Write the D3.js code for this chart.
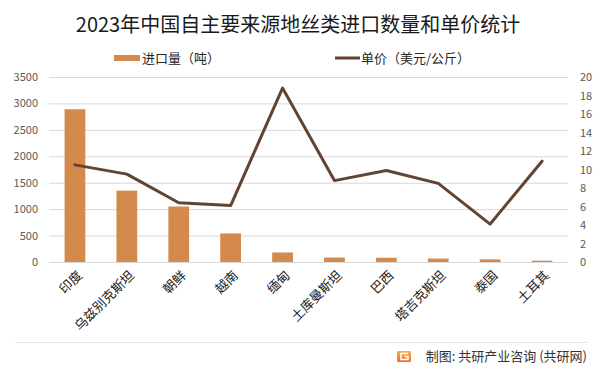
<!DOCTYPE html>
<html><head><meta charset="utf-8">
<script src="https://cdn.jsdelivr.net/npm/d3@7"></script>
<style>
html,body{margin:0;padding:0;background:#fff;}
svg{display:block;font-family:"Noto Sans CJK SC","Noto Sans",sans-serif;}
</style></head>
<body>
<svg id="chart" width="602" height="374"></svg>
<script>
const title = "2023年中国自主要来源地丝类进口数量和单价统计";
const categories = ["印度","乌兹别克斯坦","朝鲜","越南","缅甸","土库曼斯坦","巴西","塔吉克斯坦","泰国","土耳其"];
const volume = [2890, 1350, 1050, 540, 180, 85, 80, 65, 50, 25];
const price = [10.5, 9.5, 6.4, 6.1, 18.8, 8.8, 9.9, 8.5, 4.1, 10.9];
const leftTicks = [0, 500, 1000, 1500, 2000, 2500, 3000, 3500];
const rightTicks = [0, 2, 4, 6, 8, 10, 12, 14, 16, 18, 20];
const seriesNames = ["进口量（吨）", "单价（美元/公斤）"];
const footer = "制图: 共研产业咨询 (共研网)";

const barColor = "#D48A4D", lineColor = "#614532", gridColor = "#D9D9D9", tickColor = "#595959";
const svg = d3.select("#chart");
const L = 49, R = 568, T = 77, B = 262;

const x = d3.scaleBand().domain(categories).range([L, R]).paddingInner(0.6).paddingOuter(0.3);
const yL = d3.scaleLinear().domain([0, 3500]).range([B, T]);
const yR = d3.scaleLinear().domain([0, 20]).range([B, T]);

// title
svg.append("text").attr("x", 298).attr("y", 32).attr("text-anchor", "middle")
  .attr("font-size", 20).attr("fill", "#1a1a1a").text(title);

// gridlines
svg.append("g").selectAll("line").data(leftTicks).join("line")
  .attr("x1", L).attr("x2", R).attr("y1", d => yL(d) + 0.5).attr("y2", d => yL(d) + 0.5)
  .attr("stroke", gridColor).attr("stroke-width", 1);

// left axis
const gl = svg.append("g").attr("transform", `translate(${L - 11},0)`)
  .call(d3.axisLeft(yL).tickValues(leftTicks).tickFormat(d3.format("d")).tickSize(0).tickPadding(0));
gl.select(".domain").remove();
gl.selectAll("text").attr("font-size", 11).attr("fill", tickColor)
  .attr("font-family", "'Noto Sans CJK SC',sans-serif");

// right axis
const gr = svg.append("g").attr("transform", `translate(580,0)`)
  .call(d3.axisRight(yR).tickValues(rightTicks).tickFormat(d3.format("d")).tickSize(0).tickPadding(0));
gr.select(".domain").remove();
gr.selectAll("text").attr("font-size", 11).attr("fill", tickColor)
  .attr("font-family", "'Noto Sans CJK SC',sans-serif");

// bars
svg.append("g").selectAll("rect").data(categories).join("rect")
  .attr("x", d => x(d)).attr("width", x.bandwidth())
  .attr("y", (d, i) => yL(volume[i])).attr("height", (d, i) => B - yL(volume[i]))
  .attr("fill", barColor);

// line
const cx = d => x(d) + x.bandwidth() / 2;
svg.append("path").datum(categories)
  .attr("d", d3.line().x(d => cx(d)).y((d, i) => yR(price[i])))
  .attr("fill", "none").attr("stroke", lineColor).attr("stroke-width", 3)
  .attr("stroke-linejoin", "round").attr("stroke-linecap", "round");

// category labels
svg.append("g").selectAll("text").data(categories).join("text")
  .attr("transform", d => `translate(${cx(d) + 5},${273}) rotate(-45)`)
  .attr("text-anchor", "end").attr("dy", "0.35em")
  .attr("font-size", 13).attr("fill", "#1a1a1a").text(d => d);

// legend
svg.append("rect").attr("x", 114).attr("y", 55).attr("width", 26).attr("height", 6).attr("fill", barColor);
svg.append("text").attr("x", 142).attr("y", 58).attr("dy", "0.35em").attr("font-size", 13)
  .attr("fill", "#262626").text(seriesNames[0]);
svg.append("line").attr("x1", 335).attr("x2", 360).attr("y1", 58).attr("y2", 58)
  .attr("stroke", lineColor).attr("stroke-width", 3);
svg.append("text").attr("x", 361).attr("y", 58).attr("dy", "0.35em").attr("font-size", 13)
  .attr("fill", "#262626").text(seriesNames[1]);

// footer
svg.append("line").attr("x1", 15).attr("x2", 588).attr("y1", 342.5).attr("y2", 342.5)
  .attr("stroke", "#E3E3E3").attr("stroke-width", 1);
const defs = svg.append("defs");
const grad = defs.append("linearGradient").attr("id", "lg").attr("x1", 0).attr("y1", 0).attr("x2", 0).attr("y2", 1);
grad.append("stop").attr("offset", 0).attr("stop-color", "#F6B04A");
grad.append("stop").attr("offset", 1).attr("stop-color", "#EE6A2C");
svg.append("rect").attr("x", 397).attr("y", 351).attr("width", 14).attr("height", 11).attr("rx", 1.5).attr("fill", "url(#lg)");
svg.append("path").attr("d", "M408,353.5 H401 V359.5 H408 V356.5 H404.5")
  .attr("fill", "none").attr("stroke", "#fff").attr("stroke-width", 1.6);
svg.append("text").attr("x", 587).attr("y", 356.5).attr("dy", "0.35em").attr("text-anchor", "end")
  .attr("font-size", 13).attr("fill", "#333").text(footer);
</script>
</body></html>
